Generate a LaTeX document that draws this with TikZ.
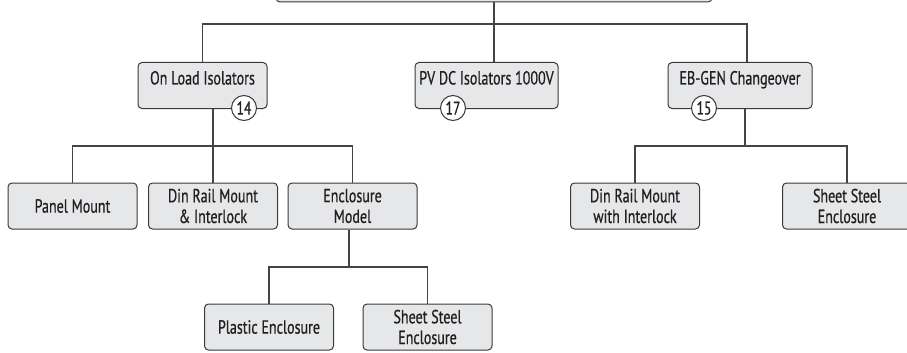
\documentclass[tikz,border=0pt]{standalone}
\usepackage{fontspec}
\newfontfamily\gillfont{PT Sans}[FakeStretch=0.74,FakeBold=0.6]
\definecolor{boxfill}{HTML}{E6E7E8}
\definecolor{boxline}{HTML}{3A3A3A}
\definecolor{linec}{HTML}{444444}
\definecolor{textc}{HTML}{231F20}
\begin{document}
\begin{tikzpicture}[x=1pt,y=-1pt,
  box/.style={draw=boxline, fill=boxfill, rounded corners=4pt, line width=1pt,
    minimum height=46pt, minimum width=129pt, inner sep=0pt, align=center,
    font=\gillfont\fontsize{19}{20.7}\selectfont, text=textc},
  topbox/.style={box, text height=13pt, text depth=15pt, inner ysep=9pt},
  num/.style={circle, draw=boxline, fill=white, line width=1pt, minimum size=25pt,
    inner sep=0pt, font=\gillfont\fontsize{18.5}{20}\selectfont, text=textc},
  link/.style={draw=linec, line width=1.2pt}]
\useasboundingbox (0,0) rectangle (907,353);
% top (cut off) box
\node[box, minimum width=436pt, minimum height=40pt] (top) at (494,-18) {};
% level 1
\node[topbox, minimum width=129pt] (ol) at (202.5,85.5) {On Load Isolators};
\node[topbox, minimum width=143pt] (pv) at (486.5,85.5) {PV DC Isolators 1000V};
\node[topbox, minimum width=144pt] (eb) at (740,85.5) {EB-GEN Changeover};
% level 2
\node[box] (pm) at (72.5,206) {Panel Mount};
\node[box] (dr) at (213,206) {Din Rail Mount\\\& Interlock};
\node[box] (encl) at (352.5,206) {Enclosure\\Model};
\node[box] (dri) at (635,206) {Din Rail Mount\\with Interlock};
\node[box] (sse) at (847,206) {Sheet Steel\\Enclosure};
% level 3
\node[box] (pe) at (269,327) {Plastic Enclosure};
\node[box] (sse2) at (427.5,327) {Sheet Steel\\Enclosure};
% connectors
\coordinate (b1) at (494,24);
\draw[link] (top.south) -- (top.south |- pv.north);
\draw[link] (ol.north) |- (b1) -| ([xshift=7pt]eb.north);
\coordinate (b2) at (213,146);
\draw[link] ([xshift=10.5pt]ol.south) -- (b2);
\draw[link] (pm.north) |- (b2) -| (encl.north);
\draw[link] (b2) -- (dr.north);
\coordinate (b3) at (745,146);
\draw[link] ([xshift=5pt]eb.south) -- (b3);
\draw[link] (dri.north) |- (b3) -| (sse.north);
\coordinate (b4) at (349,267);
\draw[link] ([xshift=-3.5pt]encl.south) -- (b4);
\draw[link] (pe.north) |- (b4) -| (sse2.north);
% number badges
\node[num] (n14) at (244,108) {14};
\node[num] (n17) at (453,108) {17};
\node[num] (n15) at (704,108) {15};
\end{tikzpicture}
\end{document}
